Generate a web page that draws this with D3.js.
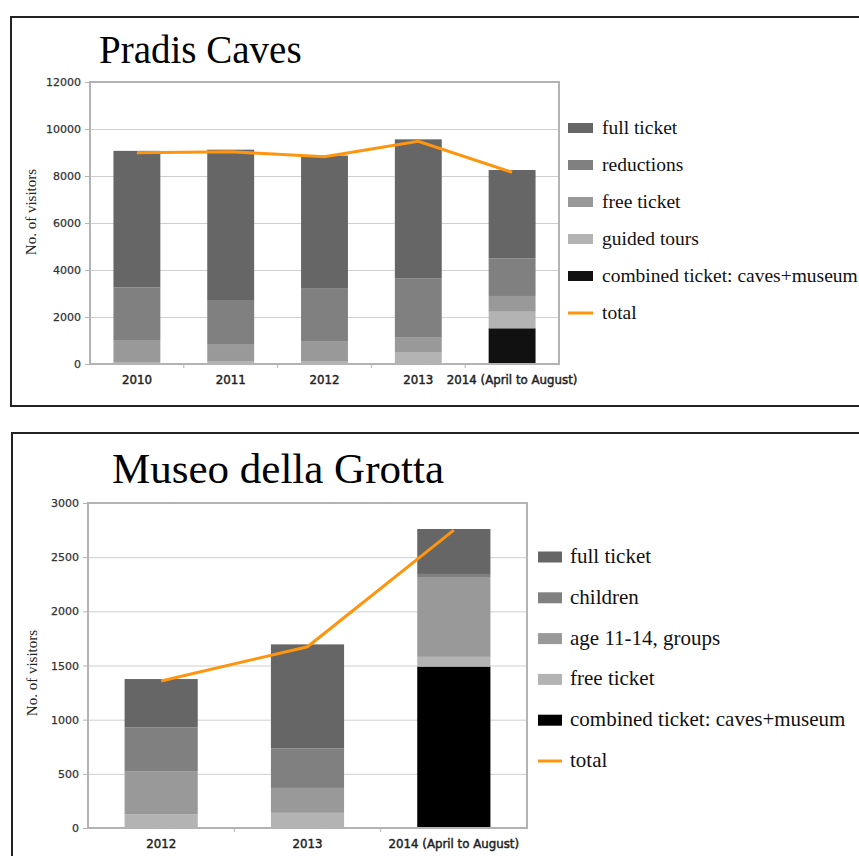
<!DOCTYPE html>
<html>
<head>
<meta charset="utf-8">
<script src="https://cdn.jsdelivr.net/npm/d3@7"></script>
<style>
  body { margin: 0; background: #fff; }
  svg { display: block; }
</style>
</head>
<body>
<div class="canva"></div>
<script>
// ---- data: Pradis Caves ----
const cavesYears = ["2010", "2011", "2012", "2013", "2014 (April to August)"];
const cavesFull = [5810, 6430, 5640, 5910, 3755];
const cavesReductions = [2270, 1840, 2280, 2530, 1605];
const cavesFree = [930, 750, 850, 610, 670];
const cavesGuided = [60, 100, 100, 510, 705];
const cavesCombined = [0, 0, 0, 0, 1520];
const cavesTotal = [8990, 9030, 8820, 9480, 8160];
const cavesTicks = [0, 2000, 4000, 6000, 8000, 10000, 12000];

// ---- data: Museo della Grotta ----
const museoYears = ["2012", "2013", "2014 (April to August)"];
const museoFull = [445, 960, 415];
const museoChildren = [405, 365, 35];
const museoAge = [400, 230, 730];
const museoFree = [125, 140, 90];
const museoCombined = [0, 0, 1490];
const museoTotal = [1357, 1673, 2750];
const museoTicks = [0, 500, 1000, 1500, 2000, 2500, 3000];

const svg = d3.select(".canva").append("svg")
    .attr("width", 859)
    .attr("height", 856);

function panel(cfg) {
  const g = svg.append("g");

  // outer frame
  g.append("rect")
      .attr("x", cfg.frame[0]).attr("y", cfg.frame[1])
      .attr("width", cfg.frame[2]).attr("height", cfg.frame[3])
      .attr("fill", "none").attr("stroke", "#222").attr("stroke-width", 2);

  g.append("text")
      .text(cfg.title)
      .attr("x", cfg.titlePos[0]).attr("y", cfg.titlePos[1])
      .attr("font-family", "Liberation Serif")
      .attr("font-size", cfg.titleSize)
      .attr("fill", "#000");

  const x = d3.scaleBand()
      .domain(cfg.cats)
      .range([cfg.plot.l, cfg.plot.r])
      .paddingInner(0.5).paddingOuter(0.25);
  const y = d3.scaleLinear()
      .domain([0, d3.max(cfg.ticks)])
      .range([cfg.plot.b, cfg.plot.t]);

  // gridlines
  g.append("g")
      .attr("transform", `translate(${cfg.plot.l},0)`)
      .call(d3.axisLeft(y).tickValues(cfg.ticks).tickSize(-(cfg.plot.r - cfg.plot.l)).tickFormat(""))
      .call(a => a.select(".domain").remove())
      .call(a => a.selectAll("line").attr("stroke", "#cfcfcf").attr("stroke-width", 1));

  // y labels
  g.append("g")
      .attr("transform", `translate(${cfg.plot.l},0)`)
      .call(d3.axisLeft(y).tickValues(cfg.ticks).tickSize(5).tickPadding(4).tickFormat(d3.format("d")))
      .call(a => a.select(".domain").remove())
      .call(a => a.selectAll("line").attr("stroke", "#b3b3b3"))
      .call(a => a.selectAll("text")
          .attr("font-family", "DejaVu Sans").attr("font-size", 11)
          .attr("fill", "#333").attr("stroke", "#333").attr("stroke-width", 0.25));

  // stacked bars
  const rows = cfg.cats.map((c, i) => {
    const r = { cat: c };
    cfg.series.forEach(s => r[s.name] = s.values[i]);
    return r;
  });
  const stack = d3.stack().keys(cfg.series.map(s => s.name))(rows);
  stack.forEach((layer, k) => {
    g.append("g").attr("fill", cfg.series[k].color)
      .selectAll("rect").data(layer).join("rect")
        .attr("x", d => x(d.data.cat))
        .attr("width", x.bandwidth())
        .attr("y", d => y(d[1]))
        .attr("height", d => y(d[0]) - y(d[1]));
  });

  // x axis ticks between categories
  const bounds = d3.range(1, cfg.cats.length).map(i => cfg.plot.l + i * x.step());
  g.append("g").selectAll("line").data(bounds).join("line")
      .attr("x1", d => d).attr("x2", d => d)
      .attr("y1", cfg.plot.b).attr("y2", cfg.plot.b + 4)
      .attr("stroke", "#b3b3b3");
  g.append("g").selectAll("text").data(cfg.cats).join("text")
      .text(d => d)
      .attr("x", d => x(d) + x.bandwidth() / 2)
      .attr("y", cfg.plot.b + cfg.xLabelDy)
      .attr("text-anchor", "middle")
      .attr("font-family", "DejaVu Sans")
      .attr("font-size", 11.8)
      .attr("fill", "#222")
      .attr("stroke", "#222")
      .attr("stroke-width", 0.45);

  // plot frame
  g.append("rect")
      .attr("x", cfg.plot.l).attr("y", cfg.plot.t)
      .attr("width", cfg.plot.r - cfg.plot.l).attr("height", cfg.plot.b - cfg.plot.t)
      .attr("fill", "none").attr("stroke", "#b3b3b3").attr("stroke-width", 2);

  // total line
  const line = d3.line()
      .x((d, i) => x(cfg.cats[i]) + x.bandwidth() / 2)
      .y(d => y(d));
  g.append("path")
      .datum(cfg.total)
      .attr("d", line)
      .attr("fill", "none")
      .attr("stroke", "#ff950e")
      .attr("stroke-width", 3);

  // y title
  g.append("text")
      .text("No. of visitors")
      .attr("transform", `translate(${cfg.yTitle[0]},${cfg.yTitle[1]}) rotate(-90)`)
      .attr("text-anchor", "middle")
      .attr("font-family", "Liberation Serif")
      .attr("font-size", 15)
      .attr("fill", "#222");

  // legend (top item = last stacked series)
  const legendItems = cfg.series.slice().reverse();
  const lg = g.append("g");
  legendItems.forEach((s, i) => {
    const cy = cfg.legend.y + i * cfg.legend.step;
    lg.append("rect")
        .attr("x", cfg.legend.x).attr("y", cy - cfg.legend.sh / 2)
        .attr("width", cfg.legend.sw).attr("height", cfg.legend.sh)
        .attr("fill", s.color);
    lg.append("text")
        .text(s.name)
        .attr("x", cfg.legend.tx).attr("y", cy + 6)
        .attr("font-family", "Liberation Serif")
        .attr("font-size", cfg.legend.fs)
        .attr("fill", "#111");
  });
  const ly = cfg.legend.y + legendItems.length * cfg.legend.step;
  lg.append("line")
      .attr("x1", cfg.legend.x).attr("x2", cfg.legend.x + cfg.legend.sw)
      .attr("y1", ly).attr("y2", ly)
      .attr("stroke", "#ff950e").attr("stroke-width", 3);
  lg.append("text")
      .text("total")
      .attr("x", cfg.legend.tx).attr("y", ly + 6)
      .attr("font-family", "Liberation Serif")
      .attr("font-size", cfg.legend.fs)
      .attr("fill", "#111");
}

panel({
  title: "Pradis Caves",
  titlePos: [99, 63], titleSize: 39,
  frame: [11, 17, 870, 389],
  plot: { l: 90, t: 82, r: 559, b: 364 },
  cats: cavesYears,
  ticks: cavesTicks,
  total: cavesTotal,
  xLabelDy: 20,
  yTitle: [36, 212],
  series: [
    { name: "combined ticket: caves+museum", values: cavesCombined, color: "#111111" },
    { name: "guided tours", values: cavesGuided, color: "#b3b3b3" },
    { name: "free ticket", values: cavesFree, color: "#999999" },
    { name: "reductions", values: cavesReductions, color: "#808080" },
    { name: "full ticket", values: cavesFull, color: "#666666" }
  ],
  legend: { x: 568, y: 128, step: 37, sw: 25, sh: 10, tx: 602, fs: 19.5 }
});

panel({
  title: "Museo della Grotta",
  titlePos: [112, 483], titleSize: 43,
  frame: [12, 433, 870, 440],
  plot: { l: 88, t: 503, r: 527, b: 828 },
  cats: museoYears,
  ticks: museoTicks,
  total: museoTotal,
  xLabelDy: 20,
  yTitle: [37, 673],
  series: [
    { name: "combined ticket: caves+museum", values: museoCombined, color: "#000000" },
    { name: "free ticket", values: museoFree, color: "#b3b3b3" },
    { name: "age 11-14, groups", values: museoAge, color: "#999999" },
    { name: "children", values: museoChildren, color: "#808080" },
    { name: "full ticket", values: museoFull, color: "#666666" }
  ],
  legend: { x: 538, y: 557, step: 40.8, sw: 24, sh: 11, tx: 570, fs: 21 }
});
</script>
</body>
</html>
